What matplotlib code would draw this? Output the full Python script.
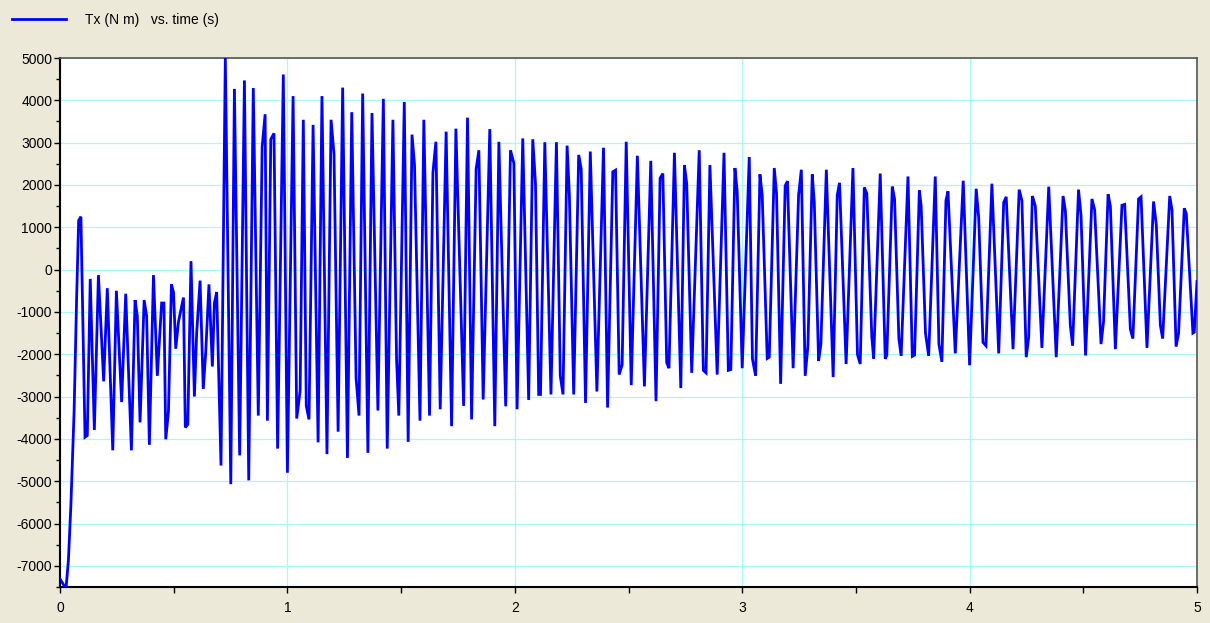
import matplotlib
matplotlib.use('Agg')
import matplotlib.pyplot as plt
from matplotlib.lines import Line2D
from matplotlib.ticker import MultipleLocator, FuncFormatter

# data (vertices of the trace)
time_s = [
    0.000, 0.015, 0.026, 0.037, 0.048, 0.062, 0.073, 0.082, 0.092, 0.110,
    0.120, 0.133, 0.151, 0.169, 0.192, 0.208, 0.232, 0.248, 0.271, 0.289,
    0.314, 0.330, 0.340, 0.352, 0.370, 0.381, 0.393, 0.411, 0.428, 0.447,
    0.457, 0.465, 0.477, 0.490, 0.499, 0.509, 0.521, 0.543, 0.551, 0.562,
    0.576, 0.591, 0.601, 0.616, 0.630, 0.641, 0.655, 0.670, 0.679, 0.689,
    0.708, 0.727, 0.751, 0.767, 0.790, 0.811, 0.830, 0.850, 0.872, 0.889,
    0.902, 0.912, 0.927, 0.941, 0.957, 0.982, 1.000,
    1.025, 1.041, 1.056, 1.070, 1.083, 1.095, 1.113, 1.135, 1.152, 1.174,
    1.192, 1.205, 1.223, 1.243, 1.264, 1.283, 1.302, 1.315, 1.331, 1.354,
    1.372, 1.398, 1.422, 1.439, 1.464, 1.480, 1.490, 1.514, 1.531, 1.548,
    1.559, 1.583, 1.600, 1.625, 1.640, 1.653, 1.672, 1.698, 1.722, 1.741,
    1.775, 1.792, 1.810, 1.830, 1.842, 1.861, 1.890, 1.912, 1.930, 1.960,
    1.981, 1.996, 2.010,
    2.035, 2.061, 2.079, 2.091, 2.105, 2.113, 2.132, 2.159, 2.183, 2.200,
    2.212, 2.230, 2.240, 2.259, 2.281, 2.292, 2.311, 2.332, 2.361, 2.390,
    2.408, 2.431, 2.443, 2.459, 2.472, 2.490, 2.512, 2.539, 2.570, 2.598,
    2.621, 2.639, 2.651, 2.668, 2.678, 2.702, 2.730, 2.746, 2.756, 2.778,
    2.811, 2.829, 2.841, 2.858, 2.890, 2.920, 2.939, 2.950, 2.968, 2.978,
    3.000,
    3.031, 3.045, 3.059, 3.078, 3.088, 3.110, 3.119, 3.141, 3.151, 3.169,
    3.189, 3.199, 3.224, 3.248, 3.260, 3.277, 3.289, 3.308, 3.317, 3.336,
    3.346, 3.370, 3.400, 3.418, 3.428, 3.457, 3.487, 3.507, 3.519, 3.537,
    3.548, 3.570, 3.578, 3.607, 3.629, 3.636, 3.660, 3.670, 3.689, 3.699,
    3.729, 3.748, 3.758, 3.779, 3.787, 3.806, 3.820, 3.849, 3.865, 3.878,
    3.896, 3.905, 3.937, 3.972, 4.000,
    4.029, 4.040, 4.059, 4.072, 4.098, 4.128, 4.150, 4.161, 4.191, 4.218,
    4.230, 4.249, 4.260, 4.276, 4.289, 4.318, 4.348, 4.381, 4.411, 4.421,
    4.443, 4.453, 4.479, 4.490, 4.510, 4.538, 4.550, 4.578, 4.589, 4.609,
    4.619, 4.641, 4.670, 4.682, 4.707, 4.718, 4.743, 4.754, 4.780, 4.809,
    4.821, 4.839, 4.849, 4.880, 4.890, 4.908, 4.919, 4.944, 4.953, 4.982,
    4.988, 5.000,
]
tx_nm = [
    -7310, -7440, -7560, -6870, -5550, -3350, -700, 1160, 1250, -3960,
    -3920, -220, -3790, -130, -2640, -440, -4270, -500, -3130, -570,
    -4270, -720, -1100, -3610, -720, -1100, -4140, -130, -2510, -790,
    -790, -4010, -3350, -350, -530, -1870, -1230, -660, -3730, -3660,
    200, -3000, -1500, -260, -2820, -1940, -350, -2290, -790, -530,
    -4630, 5000, -5070, 4270, -4390, 4470, -4980, 4290, -3450, 2900,
    3670, -3570, 3080, 3220, -4230, 4610, -4800,
    4100, -3520, -2860, 3540, -3220, -3540, 3420, -4080, 4100, -4360,
    3540, 2730, -3830, 4300, -4450, 3720, -2560, -3450, 4160, -4330,
    3700, -3330, 4035, -4230, 3540, -2110, -3450, 3960, -4070, 3190,
    2470, -3570, 3540, -3450, 2290, 3020, -3300, 3260, -3700, 3330,
    -3220, 3590, -3540, 2380, 2820, -3070, 3320, -3700, 3020, -3230,
    2820, 2510, -3300,
    3100, -3080, 3080, 2030, -2950, -2950, 3010, -2950, 3010, -2510,
    -2950, 2930, 1760, -2950, 2710, 2380, -3150, 2790, -2880, 2880,
    -3260, 2310, 2350, -2480, -2250, 3020, -2730, 2690, -2760, 2570,
    -3110, 2160, 2270, -2200, -2330, 2760, -2800, 2470, 2030, -2440,
    2820, -2380, -2440, 2470, -2480, 2760, -2380, -2360, 2400, 1850,
    -2330,
    2660, -2110, -2510, 2250, 1760, -2100, -2070, 2400, 1800, -2700,
    1980, 2090, -2330, 1760, 2360, -2510, -1800, 2250, 1590, -2160,
    -1760, 2360, -2540, 1760, 2050, -2230, 2400, -2010, -2230, 1940,
    1800, -1590, -2100, 2270, -2110, -2020, 1960, 1670, -1630, -2040,
    2200, -2050, -2020, 1870, 1500, -1500, -2040, 2200, -1760, -2180,
    1630, 1850, -1980, 2100, -2260,
    1910, 1230, -1720, -1800, 2030, -1980, 1590, 1720, -1880, 1890,
    1630, -2070, -1590, 1740, 1500, -1850, 1960, -2070, 1740, 1400,
    -1320, -1800, 1890, 1280, -2030, 1670, 1410, -1760, -1230, 1780,
    1500, -1880, 1520, 1540, -1410, -1630, 1670, 1720, -1850, 1610,
    1060, -1320, -1630, 1740, 1410, -1820, -1500, 1450, 1320, -1500,
    -1480, -280,
]
legend_label = 'Tx (N m)   vs. time (s)'

bg = '#ECE9D8'
grid_c = '#A8FAFA'
fnt = 'Liberation Sans'

fig = plt.figure(figsize=(12.10, 6.23), dpi=100, facecolor=bg)
ax = fig.add_axes([60/1210, 1-587/623, 1137/1210, 529/623])
ax.set_facecolor('white')

ax.plot(time_s, tx_nm, color='#0000FF', lw=2.0, solid_joinstyle='miter', zorder=3)

ax.set_xlim(0, 5)
ax.set_ylim(-7500, 5000)
ax.xaxis.set_major_locator(MultipleLocator(1))
ax.xaxis.set_minor_locator(MultipleLocator(0.5))
ax.yaxis.set_major_locator(MultipleLocator(1000))
ax.yaxis.set_minor_locator(MultipleLocator(500))
ax.xaxis.set_major_formatter(FuncFormatter(lambda v, p: '%d' % round(v)))
ax.yaxis.set_major_formatter(FuncFormatter(lambda v, p: '%d' % round(v)))
ax.grid(True, which='major', color=grid_c, lw=0.9, zorder=0)

ax.tick_params(which='both', direction='out', color='black', width=1,
               labelsize=10)
ax.tick_params(axis='x', which='both', length=4, pad=6)
ax.tick_params(axis='y', which='major', length=4, pad=1.5)
ax.tick_params(axis='y', which='minor', length=3)
for lab in ax.get_xticklabels() + ax.get_yticklabels():
    lab.set_fontfamily(fnt)

for s in ['left', 'bottom']:
    ax.spines[s].set_color('black')
    ax.spines[s].set_linewidth(1.5)
for s in ['top', 'right']:
    ax.spines[s].set_color('#555555')
    ax.spines[s].set_linewidth(1.2)

# legend drawn by hand at the top left
fig.add_artist(Line2D([12/1210, 66/1210], [1-19/623, 1-19/623],
                      color='#0000FF', lw=2.0))
fig.text(85/1210, 1-20/623, legend_label, fontsize=10, family=fnt,
         va='center', ha='left', color='black')

fig.savefig('out.png', dpi=100, facecolor=bg)
